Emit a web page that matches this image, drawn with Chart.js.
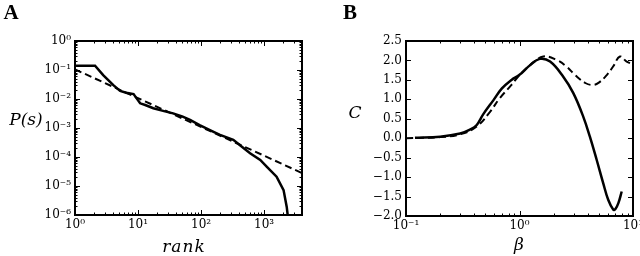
<!DOCTYPE html>
<html>
<head>
<meta charset="utf-8">
<script src="https://cdn.jsdelivr.net/npm/chart.js@4.4.1/dist/chart.umd.min.js"></script>
<style>
  body { margin: 0; background: #fff; }
  #wrap { position: relative; width: 640px; height: 256px; overflow: hidden; }
  canvas { position: absolute; top: 0; }
  .lbl { position: absolute; font-family: "DejaVu Serif", serif; font-style: italic; color: #000;
         transform: translate(-50%, -50%); white-space: nowrap; line-height: 1; }
  .letter { position: absolute; font-family: "Liberation Serif", serif; font-weight: bold; font-size: 21px;
            color: #000; transform: translate(-50%, -50%); line-height: 1; }
</style>
</head>
<body>
<div id="wrap">
  <canvas id="chartA" width="320" height="256" style="left:0"></canvas>
  <canvas id="chartB" width="320" height="256" style="left:320px"></canvas>
  <div class="letter" style="left:11px;top:12px">A</div>
  <div class="letter" style="left:350px;top:12px">B</div>
  <div class="lbl" style="left:26px;top:119px;font-size:17px">P(s)</div>
  <div class="lbl" style="left:184px;top:246px;font-size:17px;letter-spacing:1px">rank</div>
  <div class="lbl" style="left:355px;top:112px;font-size:17px">C</div>
  <div class="lbl" style="left:519px;top:244px;font-size:17px">β</div>
</div>
<script>
// panel A: rank-frequency data and power-law fit
const rankData = [1, 2.08, 2.8, 4.06, 5.2, 6.5, 8.5, 9.5, 10.8, 13, 17.5, 25, 36, 50, 67, 95,
                  158, 200, 325, 420, 600, 870, 1100, 1580, 2040, 2290, 2400];
const probData = [0.14, 0.14, 0.067, 0.030, 0.019, 0.0165, 0.0148, 0.0105, 0.0071, 0.0062, 0.0048,
                  0.0039, 0.0032, 0.0025, 0.0019, 0.00126, 0.00074, 0.00058, 0.00039, 0.00025,
                  0.000135, 7.9e-5, 4.7e-5, 2.1e-5, 7.2e-6, 1.9e-6, 8e-7];
const rankFit = [1, 4000];
const probFit = [0.105, 2.8e-5];

// panel B: C against beta
const betaSolid = [0.12, 0.2, 0.3, 0.366, 0.42, 0.48, 0.59, 0.70, 0.85, 1.0, 1.24, 1.51, 1.86,
                   2.43, 2.98, 3.65, 4.17, 4.79, 5.47, 6.06, 6.71, 7.0, 7.43, 7.95];
const cSolid = [0.01, 0.04, 0.12, 0.22, 0.34, 0.62, 0.98, 1.28, 1.50, 1.63, 1.88, 2.04, 1.97,
                1.58, 1.16, 0.55, 0.04, -0.56, -1.16, -1.59, -1.84, -1.82, -1.67, -1.37];
const betaDashed = [0.1, 0.2, 0.3, 0.42, 0.55, 0.67, 0.85, 0.97, 1.24, 1.62, 2.13, 2.6, 3.1,
                    3.8, 4.4, 5.0, 5.9, 6.7, 7.67, 8.8, 10];
const cDashed = [0.0, 0.03, 0.1, 0.30, 0.68, 1.03, 1.37, 1.58, 1.88, 2.10, 2.01, 1.84, 1.62,
                 1.42, 1.37, 1.43, 1.63, 1.85, 2.10, 1.97, 1.90];

// tick labels
const xTicksA = [1, 10, 100, 1000];
const yTicksA = [1, 0.1, 0.01, 0.001, 1e-4, 1e-5, 1e-6];
const xTicksB = [0.1, 1, 10];
const yTicksB = [2.5, 2.0, 1.5, 1.0, 0.5, 0.0, -0.5, -1.0, -1.5, -2.0];

const sup = { "0": "⁰", "1": "¹", "2": "²", "3": "³", "4": "⁴", "5": "⁵", "6": "⁶", "-": "⁻" };
const pow10 = v => "10" + String(Math.round(Math.log10(v))).split("").map(c => sup[c]).join("");
const zip = (xs, ys) => xs.map((x, i) => ({ x: x, y: ys[i] }));

const tickFont = { family: "DejaVu Serif", size: 12 };

// box round the plot with inward ticks on all four sides, matplotlib style
function minorLog(min, max) {
  const out = [];
  for (let d = Math.floor(Math.log10(min)); d <= Math.ceil(Math.log10(max)); d++) {
    for (let k = 2; k <= 9; k++) {
      const v = k * Math.pow(10, d);
      if (v > min && v < max) out.push(v);
    }
  }
  return out;
}

const frameTicks = {
  id: "frameTicks",
  afterDatasetsDraw(chart) {
    const { ctx, chartArea: a } = chart;
    ctx.save();
    ctx.strokeStyle = "#000";
    ctx.lineWidth = 1;
    const mark = (scale, values, len) => {
      values.forEach(v => {
        const p = Math.round(scale.getPixelForValue(v)) + 0.5;
        ctx.beginPath();
        if (scale.isHorizontal()) {
          if (p < a.left || p > a.right) return;
          ctx.moveTo(p, a.bottom); ctx.lineTo(p, a.bottom - len);
          ctx.moveTo(p, a.top); ctx.lineTo(p, a.top + len);
        } else {
          if (p < a.top || p > a.bottom) return;
          ctx.moveTo(a.left, p); ctx.lineTo(a.left + len, p);
          ctx.moveTo(a.right, p); ctx.lineTo(a.right - len, p);
        }
        ctx.stroke();
      });
    };
    [chart.scales.x, chart.scales.y].forEach(s => {
      mark(s, s.ticks.map(t => t.value), 5);
      if (s.type === "logarithmic") mark(s, minorLog(s.min, s.max), 2.5);
    });
    ctx.lineWidth = 2;
    ctx.strokeRect(a.left, a.top, a.right - a.left, a.bottom - a.top);
    ctx.restore();
  }
};

function axis(type, min, max, ticks, fmt, size, horizontal) {
  return {
    type: type, min: min, max: max,
    afterBuildTicks: s => { s.ticks = ticks.map(v => ({ value: v })); },
    afterFit: s => {
      if (horizontal) s.height = size; else s.width = size;
      s.paddingLeft = 0; s.paddingRight = 0; s.paddingTop = 0; s.paddingBottom = 0;
    },
    ticks: { callback: fmt, font: tickFont, color: "#000", padding: horizontal ? 3 : 4,
             autoSkip: false, maxRotation: 0 },
    grid: { display: false, drawTicks: false },
    border: { display: false }
  };
}

const common = {
  responsive: false,
  devicePixelRatio: 1,
  animation: false,
  plugins: { legend: { display: false }, tooltip: { enabled: false } },
  elements: { point: { radius: 0 } }
};

new Chart(document.getElementById("chartA"), {
  type: "line",
  data: {
    datasets: [
      { data: zip(rankFit, probFit), borderColor: "#000", borderWidth: 2, borderDash: [7, 4], tension: 0 },
      { data: zip(rankData, probData), borderColor: "#000", borderWidth: 2.5, tension: 0 }
    ]
  },
  options: Object.assign({}, common, {
    layout: { padding: { left: 0, top: 41, right: 18, bottom: 0 } },
    scales: {
      x: axis("logarithmic", 1, 4000, xTicksA, pow10, 41, true),
      y: axis("logarithmic", 1e-6, 1, yTicksA, pow10, 75, false)
    }
  }),
  plugins: [frameTicks]
});

new Chart(document.getElementById("chartB"), {
  type: "line",
  data: {
    datasets: [
      { data: zip(betaDashed, cDashed), borderColor: "#000", borderWidth: 2, borderDash: [7, 4], tension: 0.4 },
      { data: zip(betaSolid, cSolid), borderColor: "#000", borderWidth: 2.5, tension: 0.4 }
    ]
  },
  options: Object.assign({}, common, {
    layout: { padding: { left: 0, top: 41, right: 7, bottom: 0 } },
    scales: {
      x: axis("logarithmic", 0.1, 10, xTicksB, pow10, 40, true),
      y: axis("linear", -2.0, 2.5, yTicksB, v => v.toFixed(1).replace("-", "−"), 86, false)
    }
  }),
  plugins: [frameTicks]
});
</script>
</body>
</html>
